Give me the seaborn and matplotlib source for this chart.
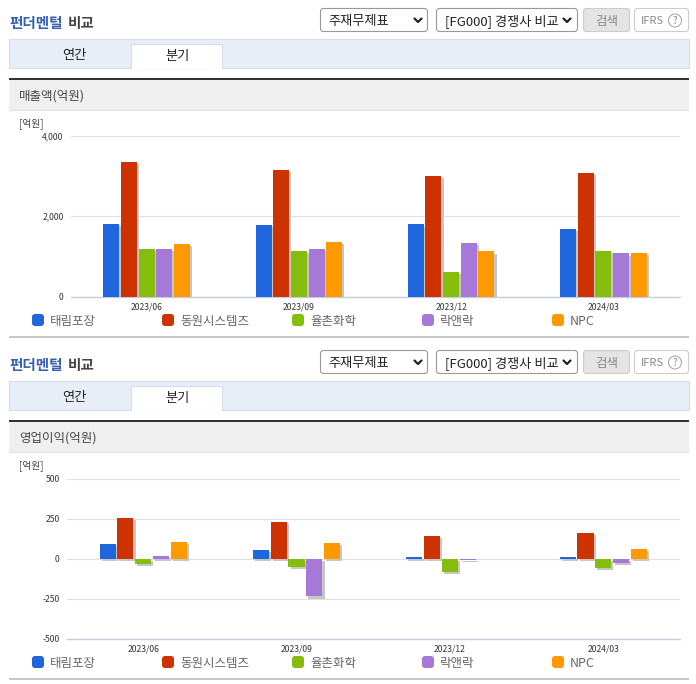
import pandas as pd
import matplotlib
matplotlib.use('Agg')
import matplotlib.pyplot as plt
import matplotlib.patheffects as pe
from matplotlib.patches import Rectangle, FancyBboxPatch, Circle
import seaborn as sns

# Values
quarters = ['2023/06', '2023/09', '2023/12', '2024/03']
companies = ['태림포장', '동원시스템즈', '율촌화학', '락앤락', 'NPC']
colors = ['#1f66dc', '#cc3300', '#86bc0b', '#a678d8', '#ff9900']

sales_taelim = [1800, 1770, 1790, 1680]
sales_dongwon = [3340, 3150, 3000, 3080]
sales_yulchon = [1170, 1130, 620, 1140]
sales_locknlock = [1170, 1170, 1340, 1070]
sales_npc = [1310, 1360, 1120, 1090]

profit_taelim = [90, 53, 8, 7]
profit_dongwon = [255, 228, 140, 160]
profit_yulchon = [-35, -50, -85, -60]
profit_locknlock = [17, -237, -10, -30]
profit_npc = [103, 97, 0, 60]

W, H = 696, 684

sns.set_theme(style='white')
plt.rcParams['font.family'] = ['Noto Sans CJK KR', 'DejaVu Sans']

fig = plt.figure(figsize=(W / 100, H / 100), dpi=100)

# overlay in pixel coords for the page furniture
page = fig.add_axes([0, 0, 1, 1], zorder=0)
page.set_xlim(0, W)
page.set_ylim(H, 0)
page.axis('off')


def box(x0, y0, x1, y1, fc, ec='none', lw=0.8, round_=False):
    if round_:
        page.add_patch(FancyBboxPatch((x0 + 3, y0 + 3), x1 - x0 - 6, y1 - y0 - 6,
                                      boxstyle='round,pad=3', fc=fc, ec=ec, lw=lw))
    else:
        page.add_patch(Rectangle((x0, y0), x1 - x0, y1 - y0, fc=fc, ec=ec, lw=lw))


def label(x, y, s, color, size, ha='left', weight='normal'):
    # y is the baseline, so hangul and latin strings line up
    page.text(x, y, s, color=color, fontsize=size, ha=ha, va='baseline', fontweight=weight)


def chevron(x, y):
    page.plot([x - 3.5, x, x + 3.5], [y - 2, y + 1.5, y - 2], color='#222222', lw=1.6)


def draw_panel(dy, title):
    label(9, 28 + dy, '펀더멘털', '#3560b4', 10.5, weight='bold')
    label(68, 28 + dy, '비교', '#444444', 10.5, weight='bold')

    box(320.5, 8.5 + dy, 427.5, 31.5 + dy, 'white', '#999999', round_=True)
    label(328, 25 + dy, '주재무제표', '#222222', 9.5)
    chevron(418, 20.5 + dy)
    box(436.5, 8.5 + dy, 577.5, 31.5 + dy, 'white', '#999999', round_=True)
    label(445, 25 + dy, '[FG000] 경쟁사 비교', '#222222', 9.5)
    chevron(567, 20.5 + dy)
    box(583.5, 8.5 + dy, 629.5, 31.5 + dy, '#e4e4e4', '#cccccc', round_=True)
    label(606.5, 24.5 + dy, '검색', '#888888', 9, ha='center')
    box(634.5, 8.5 + dy, 688.5, 31.5 + dy, 'white', '#cccccc', round_=True)
    label(641, 24 + dy, 'IFRS', '#888888', 8)
    page.add_patch(Circle((675, 20.5 + dy), 6.5, fc='white', ec='#aaaaaa', lw=0.8))
    label(675, 23.5 + dy, '?', '#888888', 7, ha='center')

    box(9, 38.5 + dy, 688.5, 67.5 + dy, '#e8eef8', '#d5dde8')
    box(131, 43.5 + dy, 222, 68 + dy, 'white', '#d5dde8')
    page.add_patch(Rectangle((131.5, 66 + dy), 90, 3, fc='white', ec='none'))
    label(74, 59 + dy, '연간', '#222222', 9.5, ha='center')
    label(177, 60 + dy, '분기', '#222222', 9.5, ha='center')

    box(9, 80 + dy, 689, 110 + dy, '#efefef')
    box(9, 110 + dy, 689, 111 + dy, '#e2e2e2')
    box(9, 78 + dy, 689, 80 + dy, '#333333')
    label(19, 100 + dy, title, '#444444', 9)
    label(19, 126 + dy, '[억원]', '#444444', 7)

    for x, name, c in zip([32, 162, 292, 422, 552], companies, colors):
        box(x, 314 + dy, x + 12, 326 + dy, c, round_=True)
        label(x + 18, 325 + dy, name, '#666666', 9)
    box(9, 336 + dy, 689, 338 + dy, '#c8c8c8')


def draw_chart(series, left, right, top, bottom, ylim, yticks, ylabels):
    df = pd.DataFrame({
        'quarter': quarters * len(companies),
        'company': [c for c in companies for _ in quarters],
        'value': [v for s in series for v in s],
    })
    ax = fig.add_axes([left / W, 1 - bottom / H, (right - left) / W, (bottom - top) / H], zorder=1)
    ax.patch.set_alpha(0)
    sns.barplot(data=df, x='quarter', y='value', hue='company', hue_order=companies,
                palette=colors, width=0.58, gap=0.09, saturation=1, errorbar=None,
                legend=False, ax=ax, zorder=3, linewidth=0)
    shadow = [pe.SimplePatchShadow(offset=(1.5, -1.5), shadow_rgbFace='#c6c6c6', alpha=1), pe.Normal()]
    for bar in ax.patches:
        if bar.get_height() == 0:
            bar.set_visible(False)
        bar.set_path_effects(shadow)

    ax.set_xlim(-0.5, 3.5)
    ax.set_ylim(*ylim)
    ax.set_xlabel('')
    ax.set_ylabel('')
    ax.set_yticks(yticks, ylabels)
    ax.set_xticks([-0.5, 0.5, 1.5, 2.5, 3.5], minor=True)
    ax.grid(axis='y', color='#e0e0e0', lw=0.8, zorder=0)
    ax.grid(axis='x', visible=False)
    sns.despine(ax=ax, left=True, top=True, right=True)
    ax.spines['bottom'].set_color('#c3cfe0')
    ax.spines['bottom'].set_linewidth(1)
    ax.tick_params(axis='x', which='major', length=0, pad=4.5, labelsize=6.2, labelcolor='#333333')
    ax.tick_params(axis='x', which='minor', length=4, width=0.8, color='#c3cfe0')
    ax.tick_params(axis='y', length=0, pad=5, labelsize=6.2, labelcolor='#333333')
    return ax


draw_panel(0, '매출액(억원)')
draw_panel(342, '영업이익(억원)')

draw_chart([sales_taelim, sales_dongwon, sales_yulchon, sales_locknlock, sales_npc],
           70.5, 679.5, 135.5, 296.5, (0, 4000), [0, 2000, 4000], ['0', '2,000', '4,000'])
draw_chart([profit_taelim, profit_dongwon, profit_yulchon, profit_locknlock, profit_npc],
           66.5, 680, 478.5, 638.5, (-500, 500), [-500, -250, 0, 250, 500],
           ['-500', '-250', '0', '250', '500'])

fig.savefig('out.png', dpi=100)
